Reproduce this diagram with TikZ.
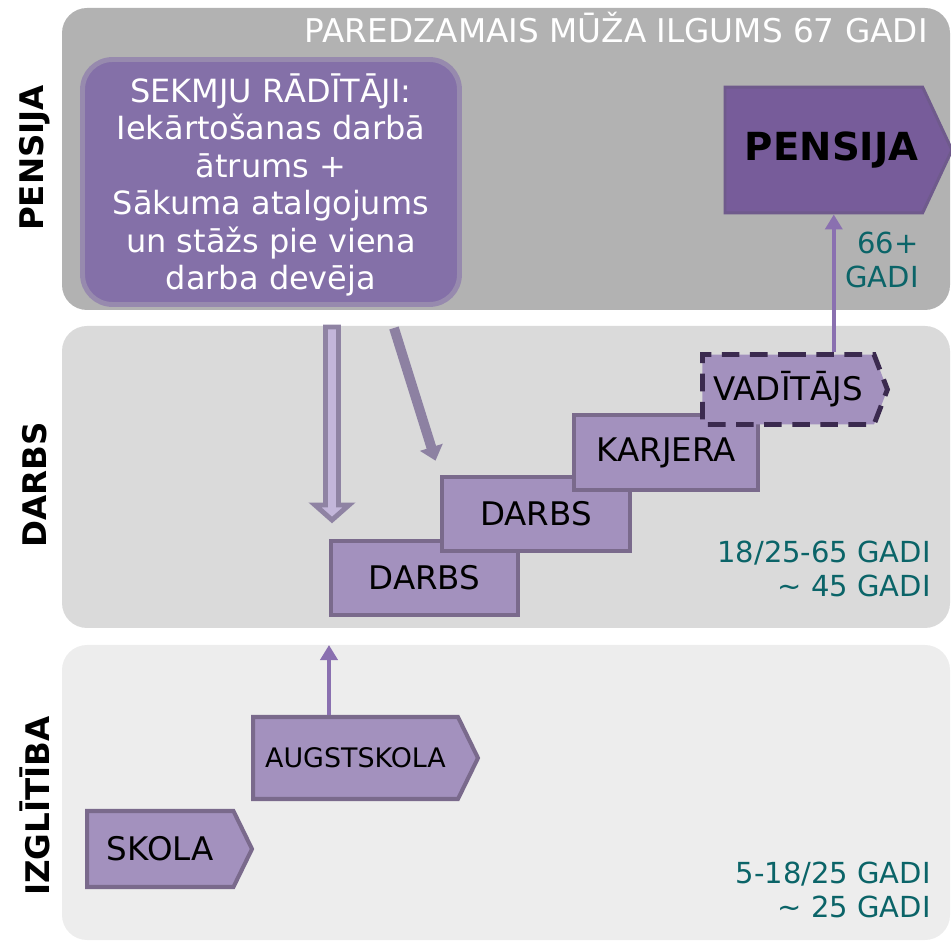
\documentclass[tikz,border=0pt]{standalone}
\usepackage{fontspec}
\setmainfont{DejaVu Sans}
\usepackage{xcolor}
\usepackage{tikz}
\usetikzlibrary{shapes.symbols, arrows.meta, positioning, calc}
\definecolor{bandtop}{HTML}{B2B2B2}
\definecolor{bandmid}{HTML}{DADADA}
\definecolor{bandlow}{HTML}{EDEDED}
\definecolor{sekfill}{HTML}{8470A8}
\definecolor{sekline}{HTML}{978AAE}
\definecolor{penfill}{HTML}{775C9A}
\definecolor{penline}{HTML}{6F5A8C}
\definecolor{stepfill}{HTML}{A391BE}
\definecolor{stepline}{HTML}{7A6A8C}
\definecolor{dashline}{HTML}{3B2A4F}
\definecolor{hollowfill}{HTML}{C3B6DA}
\definecolor{hollowline}{HTML}{8F83A3}
\definecolor{slantcol}{HTML}{8D81A2}
\definecolor{upcol}{HTML}{8A70B0}
\definecolor{agetext}{HTML}{0B6468}

\begin{document}
\begin{tikzpicture}[x=0.02cm, y=-0.02cm,
  every node/.style={font=\fontsize{18.5}{21.5}\selectfont, inner sep=0pt},
  band/.style={rounded corners=0.5cm},
  sidelabel/.style={rotate=90, font=\fontsize{18.5}{22}\selectfont\bfseries},
  workbox/.style={rectangle, draw=stepline, fill=stepfill, line width=2.3pt},
  flowsig/.style={signal, signal to=east, signal from=nowhere, signal pointer angle=128, draw=stepline, fill=stepfill, line width=2.3pt, anchor=west},
  agelabel/.style={text=agetext, align=right, anchor=north east, font=\fontsize{16.5}{19.4}\selectfont},
  uparrow/.style={draw=upcol, line width=2.2pt, -{Triangle[width=0.34cm, length=0.3cm]}}]
  \useasboundingbox (0,0) rectangle (951,942);

  % three life stages
  \fill[bandtop, band] (62,8) rectangle (950,310);
  \fill[bandmid, band] (62,326) rectangle (950,628);
  \fill[bandlow, band] (62,645) rectangle (950,940);

  \node[sidelabel] (lpen) at (35,158) {PENSIJA};
  \node[sidelabel] (lwork) at (35,485) {DARBS};
  \node[sidelabel] (ledu) at (35,806) {IZGLĪTĪBA};

  \node[anchor=base east, text=white, font=\fontsize{18.6}{22}\selectfont] (life) at (928,43) {PAREDZAMAIS MŪŽA ILGUMS 67 GADI};

  \node[draw=sekline, fill=sekfill, line width=2.8pt, rounded corners=0.6cm, minimum width=7.54cm, minimum height=4.9cm, text=white, align=center, font=\fontsize{18.2}{21.3}\selectfont] (sek) at (271,182) {};
  \node[text=white, align=center, font=\fontsize{18.2}{21.3}\selectfont] (sektext) at (271,185) {SEKMJU RĀDĪTĀJI:\\Iekārtošanas darbā\\ātrums +\\Sākuma atalgojums\\un stāžs pie viena\\darba devēja};

  \node[flowsig, fill=penfill, draw=penline, line width=1.7pt, signal pointer angle=130, minimum width=4.54cm, minimum height=2.52cm, font=\fontsize{22}{26}\selectfont\bfseries] (pen) at (723.5,150) {\hspace*{0.32cm}PENSIJA};

  % career steps
  \node[workbox, minimum width=3.74cm, minimum height=1.48cm] (d1) at (424.5,578) {DARBS};
  \node[workbox, minimum width=3.76cm, minimum height=1.48cm] (d2) at (536,514) {DARBS};
  \node[workbox, minimum width=3.68cm, minimum height=1.5cm] (kar) at (666,452.5) {KARJERA};
  \node[flowsig, draw=dashline, line width=2.8pt, dash pattern=on 10pt off 6pt, signal pointer angle=138, minimum width=3.7cm, minimum height=1.4cm] (vad) at (700,389.5) {VADĪTĀJS};

  \node[flowsig, minimum width=4.5cm, minimum height=1.64cm, font=\fontsize{15.3}{18}\selectfont] (aug) at (251,758) {AUGSTSKOLA};
  \node[flowsig, minimum width=3.3cm, minimum height=1.52cm] (sko) at (85,849) {SKOLA};

  \node[agelabel] (agepen) at (919,232) {66+\\GADI};
  \node[agelabel] (agework) at (931,541) {18/25-65 GADI\\\textasciitilde{} 45 GADI};
  \node[agelabel] (ageedu) at (931,862) {5-18/25 GADI\\\textasciitilde{} 25 GADI};

  % connectors
  \draw[uparrow] ($(pen.south |- vad.north)+(10,0)$) -- ($(pen.south)+(10,0)$);
  \draw[uparrow, shorten >=0.56cm] (aug.north -| d1.west) -- (d1.south west);

  \coordinate (hs) at (332,327);
  \coordinate (ht) at (332,520);
  \draw[draw=hollowline, fill=hollowfill, line width=2.8pt, line join=miter]
    ($(hs)+(-6.5,0)$) -- ($(ht)+(-6.5,-15)$) -- ($(ht)+(-17,-15)$) -- (ht)
    -- ($(ht)+(17,-15)$) -- ($(ht)+(6.5,-15)$) -- ($(hs)+(6.5,0)$) -- cycle;

  \coordinate (ss) at (394,328);
  \draw[draw=slantcol, line width=5.6pt, -{Triangle[width=0.46cm, length=0.28cm]}, shorten >=0.3cm] (ss) -- (d2.north west);
\end{tikzpicture}
\end{document}
